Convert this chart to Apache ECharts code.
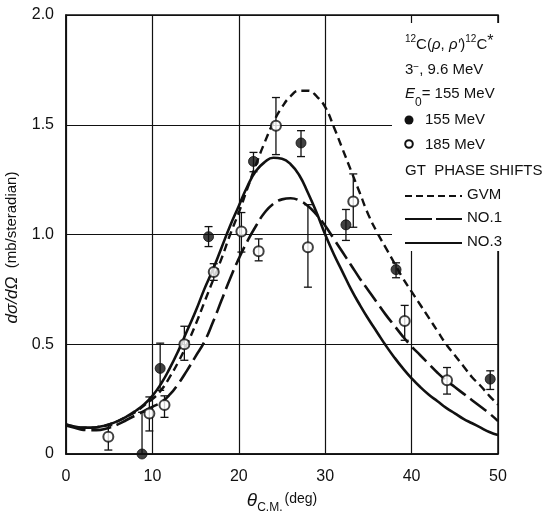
<!DOCTYPE html>
<html><head><meta charset="utf-8">
<script src="https://cdn.jsdelivr.net/npm/echarts@6/dist/echarts.min.js"></script>
<style>html,body{margin:0;padding:0;background:#fff}#c{width:550px;height:513px}</style>
</head><body><div id="c"></div>
<script>
// Scattering angle grid for the calculated curves (deg, c.m.)
const curveAngles = [0,1,2,3,4,5,6,7,8,9,10,11,12,13,14,15,16,17,18,19,20,21,22,23,24,25,26,27,28,29,30,31,32,33,34,35,36,37,38,39,40,41,42,43,44,45,46,47,48,49,50];
// GT phase shifts: GVM
const curveGVM = [0.135,0.125,0.12,0.12,0.125,0.135,0.15,0.17,0.19,0.22,0.25,0.29,0.35,0.42,0.50,0.59,0.69,0.79,0.89,1.00,1.10,1.21,1.32,1.42,1.51,1.58,1.63,1.655,1.655,1.63,1.58,1.49,1.39,1.29,1.19,1.09,1.01,0.94,0.87,0.80,0.74,0.68,0.62,0.56,0.50,0.45,0.40,0.35,0.31,0.265,0.225];
// GT phase shifts: NO.1
const curveNo1 = [0.13,0.12,0.11,0.108,0.11,0.12,0.135,0.155,0.175,0.195,0.215,0.235,0.27,0.32,0.38,0.445,0.51,0.60,0.70,0.80,0.89,0.97,1.04,1.10,1.14,1.16,1.165,1.155,1.13,1.09,1.04,0.98,0.92,0.86,0.80,0.745,0.69,0.635,0.585,0.535,0.49,0.45,0.41,0.37,0.335,0.305,0.275,0.245,0.215,0.185,0.15];
// GT phase shifts: NO.3
const curveNo3 = [0.135,0.125,0.12,0.12,0.125,0.135,0.15,0.17,0.195,0.225,0.265,0.32,0.39,0.47,0.56,0.65,0.75,0.84,0.94,1.04,1.13,1.22,1.29,1.33,1.35,1.345,1.32,1.27,1.19,1.10,1.00,0.91,0.83,0.75,0.68,0.615,0.555,0.495,0.44,0.39,0.345,0.305,0.27,0.24,0.21,0.185,0.16,0.14,0.12,0.10,0.086];

// Measured cross sections, E = 155 MeV
const angles155 = [8.8,10.9,16.5,21.7,27.2,32.4,38.2,49.1];
const values155 = [0.0,0.39,0.99,1.333,1.417,1.044,0.84,0.341];
const low155    = [0.0,0.29,0.945,1.286,1.355,0.973,0.803,0.294];
const high155   = [0.19,0.505,1.036,1.374,1.473,1.114,0.871,0.379];
// Measured cross sections, E = 185 MeV
const angles185 = [4.9,9.65,11.4,13.7,17.1,20.3,22.3,24.3,28.0,33.25,39.2,44.1];
const values185 = [0.079,0.185,0.223,0.50,0.829,1.014,0.924,1.495,0.942,1.15,0.606,0.336];
const low185    = [0.018,0.105,0.167,0.427,0.791,0.92,0.88,1.364,0.76,1.033,0.518,0.273];
const high185   = [0.129,0.26,0.265,0.582,0.867,1.10,0.98,1.624,1.136,1.276,0.677,0.394];

// Axis ticks
const xTicks = [0,10,20,30,40,50];
const yTicks = [0,0.5,1.0,1.5,2.0];

const INK = '#111';
const FONT = 'Liberation Sans';

const pairs = (xs, ys) => xs.map((x, i) => [x, ys[i]]);
const bars = (xs, lo, hi) => xs.map((x, i) => [x, lo[i], hi[i]]);

function errorBar(params, api) {
  const x = api.value(0);
  const top = api.coord([x, api.value(2)]);
  const bot = api.coord([x, api.value(1)]);
  const w = 4;
  const st = { stroke: INK, lineWidth: 1.3 };
  return { type: 'group', children: [
    { type: 'line', shape: { x1: top[0], y1: top[1], x2: bot[0], y2: bot[1] }, style: st },
    { type: 'line', shape: { x1: top[0]-w, y1: top[1], x2: top[0]+w, y2: top[1] }, style: st },
    { type: 'line', shape: { x1: bot[0]-w, y1: bot[1], x2: bot[0]+w, y2: bot[1] }, style: st }
  ]};
}

const chart = echarts.init(document.getElementById('c'), null, { renderer: 'canvas' });

const legendX = 405;

chart.setOption({
  animation: false,
  backgroundColor: '#fff',
  grid: { left: 66, right: 52, top: 15, bottom: 59, containLabel: false, outerBoundsMode: 'none',
          show: true, borderColor: INK, borderWidth: 1.5, backgroundColor: 'transparent' },
  xAxis: {
    type: 'value', min: xTicks[0], max: xTicks[xTicks.length-1], interval: 10,
    axisLine: { show: true, lineStyle: { color: INK, width: 1.5 } },
    axisTick: { show: false },
    splitLine: { show: true, lineStyle: { color: INK, width: 1.2 } },
    axisLabel: { color: INK, fontFamily: FONT, fontSize: 16, margin: 15 },
    name: '{t|θ}{s|C.M.}{d|(deg)}',
    nameLocation: 'middle', nameGap: 34,
    nameTextStyle: {
      rich: {
        t: { fontFamily: FONT, fontStyle: 'italic', fontSize: 19, color: INK, verticalAlign: 'bottom', lineHeight: 22 },
        s: { fontFamily: FONT, fontSize: 12, color: INK, verticalAlign: 'bottom', lineHeight: 14, padding: [0,0,-4,0] },
        d: { fontFamily: FONT, fontSize: 14, color: INK, verticalAlign: 'bottom', lineHeight: 22, padding: [0,0,4,2] }
      }
    }
  },
  yAxis: {
    type: 'value', min: yTicks[0], max: yTicks[yTicks.length-1], interval: 0.5,
    axisLine: { show: true, lineStyle: { color: INK, width: 1.5 } },
    axisTick: { show: false },
    splitLine: { show: true, lineStyle: { color: INK, width: 1.2 } },
    axisLabel: { color: INK, fontFamily: FONT, fontSize: 16, margin: 12,
      formatter: v => v === 0 ? '0' : v.toFixed(1) },
    name: '{i|dσ/dΩ}  (mb/steradian)',
    nameLocation: 'middle', nameGap: 38, nameRotate: 90,
    nameTextStyle: {
      color: INK, fontFamily: FONT, fontSize: 15, padding: [0,0,0,-26],
      rich: { i: { fontFamily: FONT, fontStyle: 'italic', fontSize: 17, color: INK } }
    }
  },
  series: [
    { name: 'GVM', type: 'line', data: pairs(curveAngles, curveGVM), smooth: true, showSymbol: false,
      lineStyle: { color: INK, width: 2.4, type: [8, 5] }, z: 3 },
    { name: 'NO.1', type: 'line', data: pairs(curveAngles, curveNo1), smooth: true, showSymbol: false,
      lineStyle: { color: INK, width: 2.6, type: [20, 6] }, z: 3 },
    { name: 'NO.3', type: 'line', data: pairs(curveAngles, curveNo3), smooth: true, showSymbol: false,
      lineStyle: { color: INK, width: 2.6 }, z: 3 },
    { name: 'err155', type: 'custom', renderItem: errorBar, data: bars(angles155, low155, high155),
      encode: { x: 0, y: [1, 2] }, z: 4 },
    { name: 'err185', type: 'custom', renderItem: errorBar, data: bars(angles185, low185, high185),
      encode: { x: 0, y: [1, 2] }, z: 4 },
    { name: '155 MeV', type: 'scatter', data: pairs(angles155, values155), symbol: 'circle', symbolSize: 10,
      itemStyle: { color: INK, borderColor: INK, borderWidth: 1 }, z: 5 },
    { name: '185 MeV', type: 'scatter', data: pairs(angles185, values185), symbol: 'circle', symbolSize: 10,
      itemStyle: { color: '#fff', borderColor: INK, borderWidth: 2 }, z: 5 }
  ],
  graphic: [
    // blank panel carrying the key
    { type: 'rect', shape: { x: 392, y: 23, width: 115, height: 228 }, style: { fill: '#fff' }, z: 10 },
    { type: 'text', left: legendX, top: 34, z: 20, style: {
        text: '{sup|12}C({it|ρ}, {it|ρ′}){sup|12}C{st|*}', font: '15px ' + FONT, fill: INK,
        rich: { sup: { fontSize: 10, verticalAlign: 'top', padding: [0,0,6,0], fontFamily: FONT, fill: INK },
                it: { fontStyle: 'italic', fontSize: 15, fontFamily: FONT, fill: INK },
                st: { fontSize: 16, verticalAlign: 'top', padding: [0,0,6,0], fontFamily: FONT, fill: INK } } } },
    { type: 'text', left: legendX, top: 62, z: 20, style: {
        text: '3{sup|−}, 9.6 MeV', font: '15px ' + FONT, fill: INK,
        rich: { sup: { fontSize: 10, verticalAlign: 'top', padding: [0,0,6,0], fontFamily: FONT, fill: INK } } } },
    { type: 'text', left: legendX, top: 86, z: 20, style: {
        text: '{it|E}{sub|0}= 155 MeV', font: '15px ' + FONT, fill: INK,
        rich: { it: { fontStyle: 'italic', fontSize: 15, fontFamily: FONT, fill: INK },
                sub: { fontSize: 12, verticalAlign: 'bottom', padding: [0,0,-8,0], fontFamily: FONT, fill: INK } } } },
    { type: 'circle', shape: { cx: 409, cy: 120, r: 4.5 }, style: { fill: INK }, z: 20 },
    { type: 'text', left: 425, top: 112, z: 20, style: { text: '155 MeV', font: '15px ' + FONT, fill: INK } },
    { type: 'circle', shape: { cx: 409, cy: 144, r: 3.8 }, style: { fill: '#fff', stroke: INK, lineWidth: 2 }, z: 20 },
    { type: 'text', left: 425, top: 137, z: 20, style: { text: '185 MeV', font: '15px ' + FONT, fill: INK } },
    { type: 'text', left: legendX, top: 163, z: 20, style: { text: 'GT  PHASE SHIFTS', font: '15px ' + FONT, fill: INK } },
    { type: 'line', shape: { x1: 405, y1: 196, x2: 462, y2: 196 }, style: { stroke: INK, lineWidth: 2.2, lineDash: [7, 4] }, z: 20 },
    { type: 'text', left: 467, top: 187, z: 20, style: { text: 'GVM', font: '15px ' + FONT, fill: INK } },
    { type: 'line', shape: { x1: 405, y1: 219, x2: 462, y2: 219 }, style: { stroke: INK, lineWidth: 2.2, lineDash: [27, 4] }, z: 20 },
    { type: 'text', left: 467, top: 210, z: 20, style: { text: 'NO.1', font: '15px ' + FONT, fill: INK } },
    { type: 'line', shape: { x1: 405, y1: 243, x2: 462, y2: 243 }, style: { stroke: INK, lineWidth: 2.2 }, z: 20 },
    { type: 'text', left: 467, top: 234, z: 20, style: { text: 'NO.3', font: '15px ' + FONT, fill: INK } }
  ]
});
</script>
</body></html>
